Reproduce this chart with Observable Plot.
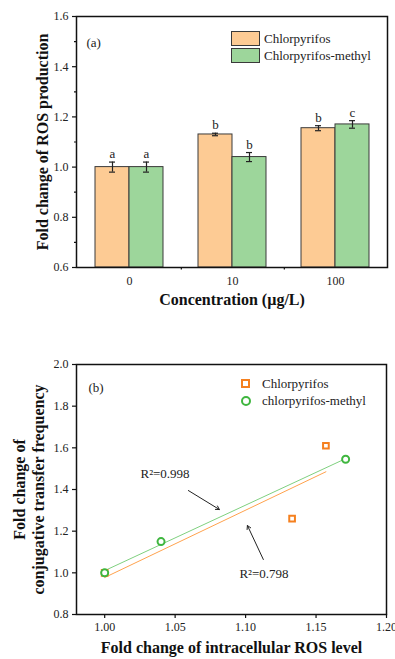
<!DOCTYPE html>
<html><head><meta charset="utf-8">
<script src="https://cdn.jsdelivr.net/npm/d3@7"></script>
<script src="https://cdn.jsdelivr.net/npm/@observablehq/plot@0.6"></script>
<style>
body{margin:0;background:#fff;font-family:"Liberation Serif","Times New Roman",serif;}
#wrap{position:relative;width:395px;height:659px;overflow:hidden;}
.panel{position:relative;width:395px;}
.panel svg{display:block;}
.lg{position:absolute;font-size:13px;color:#222;line-height:17px;white-space:nowrap;}
.row{position:absolute;left:0;display:flex;align-items:center;}
.box{width:27px;height:13px;border:1px solid #3a3a3a;margin-right:4px;}
.sq{width:5px;height:5px;border:2px solid #f5801f;margin:0 12px 0 0;}
.ci{width:6px;height:6px;border:2px solid #3fb63f;border-radius:50%;margin:0 11px 0 0;}
</style></head><body>
<div id="wrap">
  <div id="pa" class="panel"></div>
  <div id="pb" class="panel"></div>
</div>
<script>
// ---------- Panel (a) data ----------
const concentrations = ["0", "10", "100"];
const seriesNames = ["Chlorpyrifos", "Chlorpyrifos-methyl"];
const cpfMean = [1.00, 1.13, 1.155];
const cpfErr = [0.02, 0.005, 0.01];
const cpfLetters = ["a", "b", "b"];
const cpmMean = [1.00, 1.04, 1.17];
const cpmErr = [0.02, 0.018, 0.015];
const cpmLetters = ["a", "b", "c"];
const yTicksA = [0.6, 0.8, 1.0, 1.2, 1.4, 1.6];
const yMinorA = [0.7, 0.9, 1.1, 1.3, 1.5];

// ---------- Panel (b) data ----------
const rosCpf = [1.00, 1.133, 1.157];
const ctfCpf = [1.00, 1.26, 1.61];
const rosCpm = [1.00, 1.04, 1.171];
const ctfCpm = [1.00, 1.15, 1.545];
const xTicksB = [1.00, 1.05, 1.10, 1.15, 1.20];
const yTicksB = [0.8, 1.0, 1.2, 1.4, 1.6, 1.8, 2.0];
const r2Text = ["R\u00b2=0.998", "R\u00b2=0.798"];
const r2X = [1.0254, 1.0956];
const r2Y = [1.477, 0.997];
const arrowX1 = [1.0594, 1.1126];
const arrowY1 = [1.395, 1.064];
const arrowX2 = [1.0814, 1.1013];
const arrowY2 = [1.304, 1.227];

const ORANGE_FILL = "#fdcb94", GREEN_FILL = "#9dd69b";
const ORANGE = "#f5801f", GREEN = "#3fb63f";
const FONT = "'Liberation Serif', serif";

// ---------- Panel (a) ----------
const rowsA = concentrations.flatMap((c, i) => [
  {conc: c, series: seriesNames[0], mean: cpfMean[i], err: cpfErr[i], letter: cpfLetters[i]},
  {conc: c, series: seriesNames[1], mean: cpmMean[i], err: cpmErr[i], letter: cpmLetters[i]}
]);
const cpfRows = rowsA.filter(d => d.series === seriesNames[0]);
const cpmRows = rowsA.filter(d => d.series === seriesNames[1]);

const WA = 395, HA = 320, mlA = 76, mrA = 8, mtA = 16, mbA = 53;
const padInner = 0.344;
const stepA = (WA - mlA - mrA) / concentrations.length;
const bwA = stepA * (1 - padInner);
const half = bwA / 2, q = bwA / 4, cap = 3;

const plotA = Plot.plot({
  width: WA, height: HA,
  marginLeft: mlA, marginRight: mrA, marginTop: mtA, marginBottom: mbA,
  style: {fontFamily: FONT, fontSize: "12px", color: "#111", background: "white"},
  x: {type: "band", domain: concentrations, paddingInner: padInner, paddingOuter: padInner / 2, axis: null},
  y: {domain: [yTicksA[0], yTicksA[yTicksA.length - 1]], axis: null},
  marks: [
    Plot.barY(cpfRows, {x: "conc", y1: () => yTicksA[0], y2: "mean", fill: ORANGE_FILL, stroke: "#3a3a3a", strokeWidth: 1, insetRight: half}),
    Plot.barY(cpmRows, {x: "conc", y1: () => yTicksA[0], y2: "mean", fill: GREEN_FILL, stroke: "#3a3a3a", strokeWidth: 1, insetLeft: half}),
    Plot.ruleX(cpfRows, {x: "conc", y1: d => d.mean - d.err, y2: d => d.mean + d.err, dx: -q, stroke: "#222", strokeWidth: 1.2}),
    Plot.ruleX(cpmRows, {x: "conc", y1: d => d.mean - d.err, y2: d => d.mean + d.err, dx: q, stroke: "#222", strokeWidth: 1.2}),
    Plot.tickY(cpfRows, {x: "conc", y: d => d.mean + d.err, insetLeft: q - cap, insetRight: bwA - q - cap, stroke: "#222", strokeWidth: 1.2}),
    Plot.tickY(cpfRows, {x: "conc", y: d => d.mean - d.err, insetLeft: q - cap, insetRight: bwA - q - cap, stroke: "#222", strokeWidth: 1.2}),
    Plot.tickY(cpmRows, {x: "conc", y: d => d.mean + d.err, insetLeft: bwA - q - cap, insetRight: q - cap, stroke: "#222", strokeWidth: 1.2}),
    Plot.tickY(cpmRows, {x: "conc", y: d => d.mean - d.err, insetLeft: bwA - q - cap, insetRight: q - cap, stroke: "#222", strokeWidth: 1.2}),
    Plot.text(cpfRows, {x: "conc", y: d => d.mean + d.err, text: "letter", dx: -q, dy: -4, lineAnchor: "bottom", fontSize: 13, fill: "#222"}),
    Plot.text(cpmRows, {x: "conc", y: d => d.mean + d.err, text: "letter", dx: q, dy: -4, lineAnchor: "bottom", fontSize: 13, fill: "#222"}),
    Plot.axisY({ticks: yTicksA, tickSize: 4, tickPadding: 4, tickFormat: d3.format(".1f"), label: null, strokeWidth: 1.2, fill: "#222"}),
    Plot.axisY({ticks: yMinorA, tickSize: 2, tickFormat: () => "", label: null, strokeWidth: 1.2}),
    Plot.axisX({tickSize: 0, tickPadding: 9, label: null, fill: "#222"}),
    Plot.ruleX(concentrations.slice(0, -1), {x: d => d, y1: yTicksA[0], y2: yTicksA[0] - 0.01, dx: stepA / 2, stroke: "#111", strokeWidth: 1.2}),
    Plot.frame({stroke: "#111", strokeWidth: 1.5}),
    Plot.text(["(a)"], {frameAnchor: "top-left", dx: 10, dy: 21, textAnchor: "start", fontSize: 13, fill: "#222"}),
    Plot.text(["Fold change of ROS production"], {frameAnchor: "left", textAnchor: "middle", rotate: -90, dx: -34, fontWeight: "bold", fontSize: 16, fill: "#111"}),
    Plot.text(["Concentration (\u00b5g/L)"], {frameAnchor: "bottom", dy: 37, fontWeight: "bold", fontSize: 16, fill: "#111"})
  ]
});
const pa = document.getElementById("pa");
pa.appendChild(plotA);
const lgA = document.createElement("div");
lgA.className = "lg";
lgA.style.left = "231px"; lgA.style.top = "30px";
lgA.innerHTML =
  `<div class="row" style="top:0"><div class="box" style="background:${ORANGE_FILL}"></div><span>${seriesNames[0]}</span></div>` +
  `<div class="row" style="top:17px"><div class="box" style="background:${GREEN_FILL}"></div><span>${seriesNames[1]}</span></div>`;
pa.appendChild(lgA);

// ---------- Panel (b) ----------
const ptsCpf = rosCpf.map((x, i) => ({x, y: ctfCpf[i]}));
const ptsCpm = rosCpm.map((x, i) => ({x, y: ctfCpm[i]}));
const r2Rows = r2Text.map((t, i) => ({t, x: r2X[i], y: r2Y[i]}));
const arrows = arrowX1.map((x1, i) => ({x1, y1: arrowY1[i], x2: arrowX2[i], y2: arrowY2[i]}));

const plotB = Plot.plot({
  width: 395, height: 339,
  marginLeft: 76, marginRight: 9, marginTop: 44, marginBottom: 45,
  style: {fontFamily: FONT, fontSize: "12px", color: "#111", background: "white"},
  x: {domain: [0.98, 1.20], axis: null},
  y: {domain: [0.8, 2.0], axis: null},
  marks: [
    Plot.linearRegressionY(ptsCpf, {x: "x", y: "y", stroke: "#ffa24d", strokeWidth: 1, ci: 0}),
    Plot.linearRegressionY(ptsCpm, {x: "x", y: "y", stroke: "#7fd07f", strokeWidth: 1, ci: 0}),
    Plot.dot(ptsCpf, {x: "x", y: "y", symbol: "square", r: 3.2, stroke: ORANGE, strokeWidth: 2, fill: "white"}),
    Plot.dot(ptsCpm, {x: "x", y: "y", symbol: "circle", r: 3.5, stroke: GREEN, strokeWidth: 2, fill: "white"}),
    Plot.arrow(arrows, {x1: "x1", y1: "y1", x2: "x2", y2: "y2", stroke: "#222", strokeWidth: 1, headLength: 6}),
    Plot.text(r2Rows, {x: "x", y: "y", text: "t", textAnchor: "start", fontSize: 13, fill: "#222"}),
    Plot.axisY({ticks: yTicksB, tickSize: 4, tickPadding: 4, tickFormat: d3.format(".1f"), label: null, strokeWidth: 1.2, fill: "#222"}),
    Plot.axisX({ticks: xTicksB, tickSize: 4, tickPadding: 4, tickFormat: d3.format(".2f"), label: null, strokeWidth: 1.2, fill: "#222"}),
    Plot.frame({stroke: "#111", strokeWidth: 1.5}),
    Plot.text(["(b)"], {frameAnchor: "top-left", dx: 12, dy: 18, textAnchor: "start", fontSize: 13, fill: "#222"}),
    Plot.text(["Fold change of\nconjugative transfer frequency"], {frameAnchor: "left", textAnchor: "middle", rotate: -90, dx: -48, lineHeight: 1.2, fontWeight: "bold", fontSize: 16, fill: "#111"}),
    Plot.text(["Fold change of intracellular ROS level"], {frameAnchor: "bottom", dy: 38, fontWeight: "bold", fontSize: 16, fill: "#111"})
  ]
});
const pb = document.getElementById("pb");
pb.appendChild(plotB);
const lgB = document.createElement("div");
lgB.className = "lg";
lgB.style.left = "241px"; lgB.style.top = "55px";
lgB.innerHTML =
  `<div class="row" style="top:0"><div class="sq"></div><span>${seriesNames[0]}</span></div>` +
  `<div class="row" style="top:17px"><div class="ci"></div><span>chlorpyrifos-methyl</span></div>`;
pb.appendChild(lgB);
</script>
</body></html>
